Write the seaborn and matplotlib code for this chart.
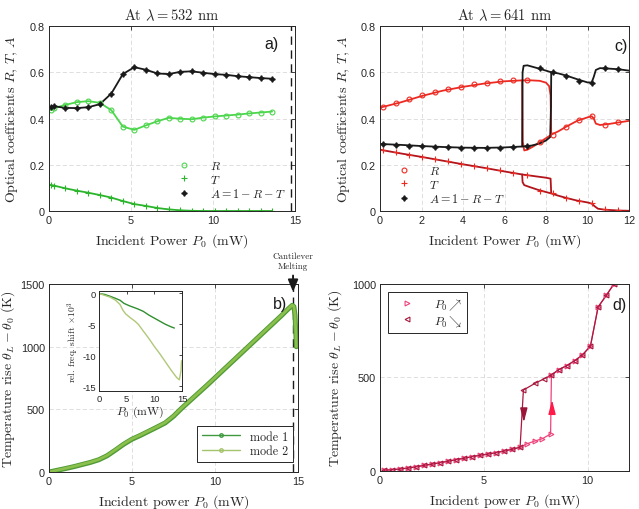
import numpy as np
import pandas as pd
import matplotlib
matplotlib.use('Agg')
import matplotlib.pyplot as plt
import seaborn as sns
from matplotlib.lines import Line2D

# ---------------- data ----------------
# panel a) lambda = 532 nm
a_p = [0.1, 0.3, 1.0, 1.7, 2.4, 3.1, 3.8, 4.5, 5.2, 5.9, 6.6, 7.3, 8.0, 8.7, 9.4, 10.1, 10.8, 11.5, 12.2, 12.9, 13.6]
a_R = [0.437, 0.445, 0.459, 0.471, 0.475, 0.468, 0.436, 0.365, 0.351, 0.370, 0.388, 0.403, 0.399, 0.397, 0.404,
       0.409, 0.413, 0.417, 0.422, 0.426, 0.430]
a_T = [0.113, 0.110, 0.098, 0.088, 0.079, 0.069, 0.058, 0.043, 0.030, 0.022, 0.013, 0.007, 0.003, 0.001, 0.0,
       0.0, 0.0, 0.0, 0.0, 0.0, 0.0]
a_A = [0.450, 0.453, 0.446, 0.445, 0.449, 0.462, 0.508, 0.592, 0.622, 0.611, 0.595, 0.592, 0.602, 0.604, 0.598,
       0.592, 0.589, 0.583, 0.579, 0.575, 0.572]
melt_p = 14.75

# panel c) lambda = 641 nm, model curves (forward branch, then low-R branch)
c_R1_p = [0, 1, 2, 3, 4, 5, 6, 6.85, 7.3, 7.7, 8.0, 8.15, 8.22, 8.25]
c_R1 = [0.447, 0.470, 0.497, 0.520, 0.537, 0.551, 0.561, 0.565, 0.565, 0.563, 0.555, 0.540, 0.500, 0.330]
c_R2_p = [6.85, 6.88, 6.95, 7.1, 7.4, 7.7, 8.0, 8.25, 8.6, 9.0, 9.5, 10.0, 10.2, 10.3, 10.4, 10.6, 11.0, 11.5, 12.0]
c_R2 = [0.565, 0.300, 0.262, 0.265, 0.280, 0.298, 0.315, 0.330, 0.345, 0.366, 0.390, 0.405, 0.410, 0.400, 0.378,
        0.372, 0.376, 0.383, 0.390]
c_A1_p = [0, 1, 2, 3, 4, 5, 6, 6.85, 7.3, 7.7, 8.0, 8.2, 8.24, 8.25]
c_A1 = [0.290, 0.286, 0.281, 0.277, 0.274, 0.273, 0.275, 0.279, 0.283, 0.292, 0.305, 0.320, 0.450, 0.600]
c_A2_p = [6.85, 6.87, 6.92, 7.1, 7.5, 8.0, 8.25, 8.6, 9.0, 9.5, 10.0, 10.2, 10.3, 10.4, 10.6, 11.0, 11.5, 12.0]
c_A2 = [0.279, 0.600, 0.628, 0.630, 0.620, 0.607, 0.600, 0.595, 0.585, 0.570, 0.556, 0.556, 0.580, 0.610,
        0.618, 0.616, 0.613, 0.607]
c_T1_p = [0, 1, 2, 3, 4, 5, 6, 6.85, 7.5, 8.0, 8.22, 8.25]
c_T1 = [0.265, 0.249, 0.234, 0.218, 0.202, 0.187, 0.171, 0.158, 0.150, 0.144, 0.140, 0.078]
c_T2_p = [6.85, 6.87, 6.95, 7.2, 7.6, 8.0, 8.25, 8.6, 9.0, 9.5, 10.0, 10.2, 10.35, 10.5, 10.8, 11.5, 12.0]
c_T2 = [0.158, 0.125, 0.112, 0.104, 0.092, 0.082, 0.076, 0.066, 0.056, 0.045, 0.037, 0.032, 0.020, 0.010,
        0.006, 0.002, 0.001]
# panel c) markers
c_mp = [0.13, 0.76, 1.39, 2.02, 2.65, 3.28, 3.91, 4.54, 5.17, 5.80, 6.43, 7.06, 7.69, 8.32, 8.95, 9.58, 10.21,
        10.84, 11.47]
c_mR = [0.449, 0.466, 0.485, 0.501, 0.514, 0.528, 0.537, 0.549, 0.554, 0.562, 0.566, 0.567, 0.298, 0.329, 0.362,
        0.393, 0.410, 0.372, 0.383]
c_mT = [0.264, 0.254, 0.244, 0.235, 0.225, 0.215, 0.205, 0.195, 0.186, 0.176, 0.166, 0.156, 0.087, 0.077, 0.057,
        0.044, 0.033, 0.008, 0.003]
c_mA = [0.290, 0.286, 0.283, 0.279, 0.277, 0.275, 0.274, 0.273, 0.273, 0.274, 0.276, 0.281, 0.620, 0.602, 0.586,
        0.562, 0.553, 0.617, 0.614]

# panel b) temperature rise at 532 nm
b_p = [0, 0.5, 1, 1.5, 2, 2.5, 3, 3.5, 4, 4.5, 5, 5.5, 6, 6.5, 7, 7.5, 8, 8.5, 9, 9.5, 10, 10.5, 11, 11.5,
       12, 12.5, 13, 13.5, 14, 14.4, 14.65, 14.75, 14.82, 14.87, 14.9]
b_mode1 = [0, 14, 28, 43, 60, 77, 98, 130, 175, 222, 262, 292, 325, 358, 392, 445, 510, 570, 630, 690, 752,
           814, 876, 938, 1000, 1062, 1124, 1186, 1248, 1300, 1330, 1320, 1250, 1100, 1000]
b_mode2 = [0, 15, 30, 45, 62, 79, 100, 132, 178, 225, 265, 295, 328, 360, 395, 448, 512, 572, 632, 692, 754,
           816, 878, 940, 1002, 1064, 1126, 1188, 1250, 1302, 1332, 1322, 1252, 1102, 1000]
# inset: relative frequency shift x 1e3
in_p1 = [0, 1, 2, 3, 3.8, 4.5, 5.5, 7, 8, 9, 10, 11, 12, 13, 13.6]
in_mode1 = [0, -0.15, -0.45, -0.8, -1.1, -1.6, -2.0, -2.5, -2.9, -3.5, -4.0, -4.5, -5.0, -5.4, -5.6]
in_p2 = [0, 1, 2, 3, 3.8, 4.3, 4.8, 5.6, 6.5, 7.1, 8, 9, 10, 11, 12, 13, 14, 14.5, 14.8, 14.9]
in_mode2 = [0, -0.3, -0.6, -1.1, -1.8, -2.7, -3.3, -3.9, -4.5, -5.0, -6.1, -7.3, -8.6, -9.8, -11.1, -12.4,
            -13.6, -14.0, -12.5, -10.9]

# panel d) temperature rise at 641 nm, up and down sweeps
d_up_p = [0.2, 0.59, 0.97, 1.36, 1.74, 2.13, 2.51, 2.9, 3.28, 3.67, 4.05, 4.44, 4.82, 5.21, 5.59, 5.98, 6.36,
          6.75, 7.07, 7.45, 7.83, 8.22, 8.26, 8.61, 8.99, 9.38, 9.75, 10.14, 10.51, 10.91, 11.27]
d_up_T = [4, 7, 11, 16, 23, 30, 37, 45, 52, 61, 68, 77, 84, 91, 98, 107, 116, 127, 145, 160, 173, 198, 513, 542,
          563, 590, 620, 668, 877, 940, 1000]
d_dn_p = [11.27, 10.91, 10.51, 10.14, 9.75, 9.38, 8.99, 8.61, 8.26, 7.89, 7.49, 6.91, 6.75, 6.36, 5.98, 5.59,
          5.21, 4.82, 4.44, 4.05, 3.67, 3.28, 2.9, 2.51, 2.13, 1.74, 1.36, 0.97, 0.59, 0.2]
d_dn_T = [1000, 940, 877, 668, 620, 590, 563, 542, 513, 492, 470, 433, 127, 116, 107, 98, 91, 84, 77, 68, 61,
          52, 45, 37, 30, 23, 16, 11, 7, 4]

# ---------------- style ----------------
sns.set_theme(style='white')
plt.rcParams['font.family'] = ['Liberation Sans', 'DejaVu Sans']
plt.rcParams['mathtext.fontset'] = 'cm'
plt.rcParams['axes.unicode_minus'] = False
SERIF = 'cmr10'
INK = '#262626'

green_R = '#4cd64c'
green_T = '#2bb52b'
red_R = '#ec2a22'
red_T = '#b3141c'
pink = '#f0427a'
crimson = '#a8183e'


def style(ax, size=7.8):
    ax.tick_params(direction='in', top=True, right=True, labelsize=size, colors=INK,
                   length=3, width=0.6, pad=3)
    for s in ax.spines.values():
        s.set_color(INK)
        s.set_linewidth(0.7)
    ax.grid(True, ls=(0, (5, 3)), color='#d9d9d9', lw=0.6)
    ax.set_axisbelow(True)


def line(ax, x, y, color, lw=1.3):
    df = pd.DataFrame({'x': x, 'y': y})
    sns.lineplot(data=df, x='x', y='y', ax=ax, color=color, lw=lw, sort=False, estimator=None)


xlab = dict(family=SERIF, fontsize=10, color=INK)
ylab = dict(family=SERIF, fontsize=10, color=INK)
leg_font = dict(family=SERIF, size=8.7)

fig = plt.figure(figsize=(6.39, 5.10), dpi=100)
ax_a = fig.add_axes([0.0767, 0.5843, 0.385, 0.3627])
ax_c = fig.add_axes([0.5947, 0.5843, 0.3897, 0.3627])
ax_b = fig.add_axes([0.0767, 0.0725, 0.3897, 0.3686])
ax_d = fig.add_axes([0.5947, 0.0745, 0.3897, 0.3667])

# ---- a)
line(ax_a, a_p, a_R, green_R)
line(ax_a, a_p, a_T, green_T)
line(ax_a, a_p, a_A, 'k')
ax_a.plot(a_p, a_R, 'o', ms=3.5, mfc='none', mec=green_R, mew=0.8, label='$R$')
ax_a.plot(a_p, a_T, '+', ms=4.5, color=green_T, mew=0.8, label='$T$')
ax_a.plot(a_p, a_A, marker=(4, 1, 0), ls='none', ms=4, color='k', label='$A = 1 - R - T$')
ax_a.axvline(melt_p, color='k', lw=1.0, ls=(0, (6, 4)))
ax_a.set_xlim(0, 15)
ax_a.set_ylim(0, 0.8)
ax_a.set_xticks([0, 5, 10, 15])
ax_a.set_yticks([0, 0.2, 0.4, 0.6, 0.8])
ax_a.set_yticklabels(['0', '0.2', '0.4', '0.6', '0.8'])
ax_a.set_xlabel('Incident Power $P_0$ (mW)', **xlab)
ax_a.set_ylabel('Optical coefficients $R$, $T$, $A$', **ylab)
ax_a.yaxis.set_label_coords(-0.118, 0.5)
ax_a.set_title(r'At $\lambda = 532$ nm', family=SERIF, fontsize=10.5, color=INK, pad=5)
ax_a.legend(loc='center', bbox_to_anchor=(0.73, 0.168), frameon=False, handlelength=2,
            handletextpad=1.1, labelspacing=0.12, prop=leg_font)
ax_a.text(0.935, 0.945, 'a)', transform=ax_a.transAxes, ha='right', va='top', fontsize=11.5, color='k')
style(ax_a)

# ---- c)
line(ax_c, c_R1_p, c_R1, red_R)
line(ax_c, c_R2_p, c_R2, red_R)
line(ax_c, c_T1_p, c_T1, red_T)
line(ax_c, c_T2_p, c_T2, red_T)
line(ax_c, c_A1_p, c_A1, 'k')
line(ax_c, c_A2_p, c_A2, 'k')
ax_c.plot(c_mp, c_mR, 'o', ms=3.5, mfc='none', mec=red_R, mew=0.8, label='$R$')
ax_c.plot(c_mp, c_mT, '+', ms=4.5, color=red_R, mew=0.8, label='$T$')
ax_c.plot(c_mp, c_mA, marker=(4, 1, 0), ls='none', ms=4, color='k', label='$A = 1 - R - T$')
ax_c.set_xlim(0, 12)
ax_c.set_ylim(0, 0.8)
ax_c.set_xticks([0, 2, 4, 6, 8, 10, 12])
ax_c.set_yticks([0, 0.2, 0.4, 0.6, 0.8])
ax_c.set_yticklabels(['0', '0.2', '0.4', '0.6', '0.8'])
ax_c.set_xlabel('Incident Power $P_0$ (mW)', **xlab)
ax_c.set_ylabel('Optical coefficients $R$, $T$, $A$', **ylab)
ax_c.yaxis.set_label_coords(-0.112, 0.5)
ax_c.set_title(r'At $\lambda = 641$ nm', family=SERIF, fontsize=10.5, color=INK, pad=5)
ax_c.legend(loc='center', bbox_to_anchor=(0.275, 0.14), frameon=False, handlelength=2,
            handletextpad=1.1, labelspacing=0.12, prop=leg_font)
ax_c.text(0.995, 0.935, 'c)', transform=ax_c.transAxes, ha='right', va='top', fontsize=11.5, color='k')
style(ax_c)

# ---- b)
ax_b.axvline(14.7, color='k', lw=1.0, ls=(0, (6, 4)))
line(ax_b, b_p, b_mode1, '#4e9a36', lw=3.6)
line(ax_b, b_p, b_mode2, '#8cc04c', lw=2.0)
ax_b.set_xlim(0, 15)
ax_b.set_ylim(0, 1500)
ax_b.set_xticks([0, 5, 10, 15])
ax_b.set_yticks([0, 500, 1000, 1500])
ax_b.set_xlabel('Incident power $P_0$ (mW)', **xlab)
ax_b.set_ylabel(r'Temperature rise $\theta_L - \theta_0$ (K)', **ylab)
ax_b.yaxis.set_label_coords(-0.128, 0.5)
handles_b = [Line2D([], [], color='#3f9a3f', lw=1.0, marker='o', ms=2.5, mfc='none'),
             Line2D([], [], color='#a4c46c', lw=1.0, marker='o', ms=2.5, mfc='none')]
leg = ax_b.legend(handles_b, ['mode 1', 'mode 2'], loc='lower right', bbox_to_anchor=(0.98, 0.053),
                  borderaxespad=0, fancybox=False, framealpha=1, edgecolor=INK, handlelength=3.2,
                  prop=leg_font, labelspacing=0.2)
leg.get_frame().set_linewidth(0.7)
ax_b.text(0.955, 0.935, 'b)', transform=ax_b.transAxes, ha='right', va='top', fontsize=11.5, color='k')
ax_b.annotate('', xy=(14.7, 1415), xytext=(14.7, 1590), annotation_clip=False,
              arrowprops=dict(arrowstyle='-|>,head_width=0.25,head_length=0.6', color='k', lw=1.4))
ax_b.text(14.7, 1612, 'Cantilever\nMelting', ha='center', va='bottom', family=SERIF, fontsize=6.5,
          color=INK, linespacing=1.2, clip_on=False)
style(ax_b)

# inset
ax_in = fig.add_axes([0.155, 0.2314, 0.130, 0.196])
line(ax_in, in_p1, in_mode1, '#2f8f2f', lw=1.0)
line(ax_in, in_p2, in_mode2, '#b0c878', lw=1.0)
ax_in.set_xlim(0, 15)
ax_in.set_ylim(-15.8, 0.4)
ax_in.set_xticks([0, 5, 10, 15])
ax_in.set_yticks([0, -5, -10, -15])
ax_in.set_xlabel('$P_0$ (mW)', family=SERIF, fontsize=8.5, color=INK, labelpad=1)
ax_in.set_ylabel(r'rel. freq. shift $\times 10^3$', family=SERIF, fontsize=6.8, color=INK, labelpad=1)
style(ax_in, size=6.8)
ax_in.grid(False)
ax_in.tick_params(pad=2, length=2)

# ---- d)
line(ax_d, d_up_p, d_up_T, pink, lw=0.9)
line(ax_d, d_dn_p, d_dn_T, crimson, lw=0.9)
ax_d.plot(d_up_p, d_up_T, '>', ls='none', ms=3.5, mfc='none', mec=pink, mew=0.8, label=r'$P_0 \nearrow$')
ax_d.plot(d_dn_p, d_dn_T, '<', ls='none', ms=3.5, mfc='none', mec=crimson, mew=0.8, label=r'$P_0 \searrow$')
ax_d.annotate('', xy=(6.93, 245), xytext=(6.93, 330),
              arrowprops=dict(arrowstyle='-|>,head_width=0.18,head_length=0.7', color='#9a1538', lw=1.0))
ax_d.annotate('', xy=(8.29, 395), xytext=(8.29, 310),
              arrowprops=dict(arrowstyle='-|>,head_width=0.18,head_length=0.7', color='#ff1a4a', lw=1.0))
ax_d.set_xlim(0, 12)
ax_d.set_ylim(0, 1000)
ax_d.set_xticks([0, 5, 10])
ax_d.set_yticks([0, 500, 1000])
ax_d.set_xlabel('Incident power $P_0$ (mW)', **xlab)
ax_d.set_ylabel(r'Temperature rise $\theta_L - \theta_0$ (K)', **ylab)
ax_d.yaxis.set_label_coords(-0.145, 0.5)
leg = ax_d.legend(loc='upper left', bbox_to_anchor=(0.032, 0.957), borderaxespad=0, fancybox=False,
                  framealpha=1, edgecolor=INK, handlelength=2.4, handletextpad=1.0, labelspacing=0.05,
                  prop=leg_font)
leg.get_frame().set_linewidth(0.7)
ax_d.text(0.99, 0.93, 'd)', transform=ax_d.transAxes, ha='right', va='top', fontsize=11.5, color='k')
style(ax_d)

fig.savefig('out.png', dpi=100)
